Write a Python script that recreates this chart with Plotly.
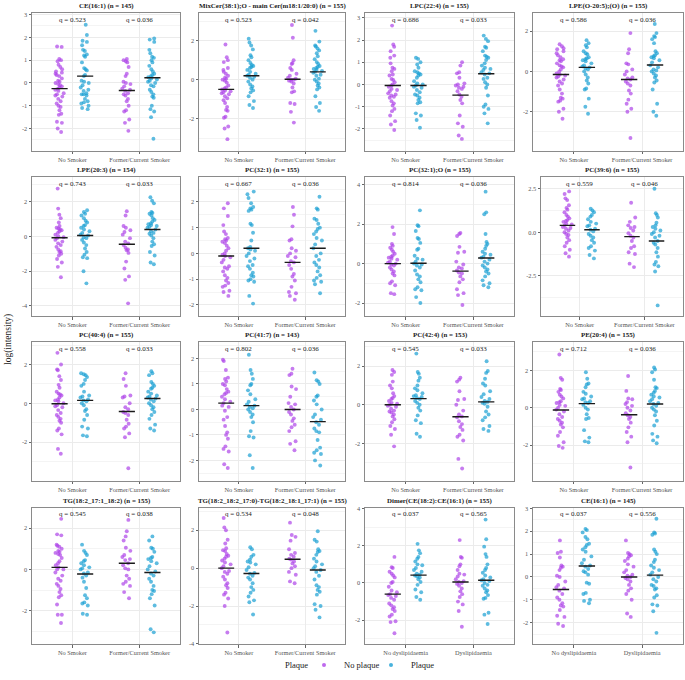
import numpy as np
import plotly.graph_objects as go

# ---------------- data ----------------
titles = [
    "CE(16:1) (n = 145)", "MixCer(38:1);O - main Cer(m18:1/20:0) (n = 155)",
    "LPC(22:4) (n = 155)", "LPE(O-20:5);(O) (n = 155)",
    "LPE(20:3) (n = 154)", "PC(32:1) (n = 155)", "PC(32:1);O (n = 155)", "PC(39:6) (n = 155)",
    "PC(40:4) (n = 155)", "PC(41:7) (n = 143)", "PC(42:4) (n = 153)", "PE(20:4) (n = 155)",
    "TG(18:2_17:1_18:2) (n = 155)", "TG(18:2_18:2_17:0)-TG(18:2_18:1_17:1) (n = 155)",
    "Dimer(CE(18:2):CE(16:1) (n = 155)", "CE(16:1) (n = 145)",
]
cats_smoker = ["No Smoker", "Former/Current Smoker"]
cats_dys = ["No dyslipidaemia", "Dyslipidaemia"]
panel_cats = [cats_smoker] * 14 + [cats_dys] * 2

q_first = ["0.523", "0.523", "0.686", "0.586", "0.743", "0.667", "0.814", "0.559",
           "0.558", "0.802", "0.545", "0.712", "0.545", "0.534", "0.037", "0.037"]
q_second = ["0.036", "0.042", "0.033", "0.036", "0.033", "0.036", "0.036", "0.046",
            "0.033", "0.036", "0.033", "0.036", "0.038", "0.048", "0.565", "0.556"]

# group means: [cat1 no plaque, cat1 plaque, cat2 no plaque, cat2 plaque]
means = [
    [-0.25, 0.30, -0.33, 0.23], [-0.50, 0.20, 0.02, 0.40], [-0.05, -0.05, -0.48, 0.48],
    [-0.15, 0.20, -0.40, 0.32], [-0.08, 0.05, -0.45, 0.40], [-0.10, 0.20, -0.35, 0.20],
    [0.00, 0.02, -0.38, 0.28], [0.40, 0.15, -0.25, -0.50], [-0.02, 0.15, -0.42, 0.25],
    [0.25, 0.15, 0.00, -0.48], [0.00, 0.32, -0.62, 0.15], [-0.12, 0.22, -0.38, 0.20],
    [0.10, -0.22, 0.30, -0.15], [0.00, -0.28, 0.47, -0.10], [-0.60, 0.42, 0.05, 0.15],
    [-0.55, 0.48, 0.00, 0.08],
]

p1_a = [1.6, 1.58, 1.05, 1.0, 0.95, 0.8, 0.7, 0.6, 0.5, 0.45, 0.4, 0.35, 0.3, 0.1, 0.05, 0.0, -0.05, -0.1, -0.15, -0.2, -0.3, -0.35, -0.45, -0.5, -0.55, -0.6, -0.7, -0.8, -0.9, -1.0, -1.05, -1.2, -1.35, -1.4, -1.7, -1.75, -2.0, -2.15, 0.2, -0.25]
p1_b = [2.55, 2.1, 1.85, 1.8, 1.65, 1.45, 1.4, 1.25, 1.2, 1.15, 0.9, 0.65, 0.6, 0.55, 0.1, 0.05, 0.0, -0.1, -0.2, -0.3, -0.35, -0.45, -0.5, -0.5, -0.55, -0.7, -0.8, -0.85, -0.9, -1.0, -1.1, -1.15, 0.3, 0.35]
p1_c = [1.05, 1.0, 0.9, 0.7, 0.4, 0.3, 0.05, 0.0, -0.15, -0.3, -0.35, -0.45, -0.5, -0.55, -0.7, -0.8, -1.2, -1.25, -1.6, -1.75, -2.1, 0.95, -0.05, -0.25, -1.0]
p1_d = [1.95, 1.9, 1.8, 1.45, 1.3, 1.15, 1.1, 1.0, 0.9, 0.75, 0.6, 0.4, 0.3, 0.25, 0.2, 0.1, 0.05, 0.0, -0.1, -0.15, -0.3, -0.4, -0.5, -0.6, -0.65, -1.0, -1.15, -1.25, -1.5, -2.45, 0.5, 0.15, 0.35]

p2_a = [1.8, 1.15, 1.0, 0.9, 0.6, 0.5, 0.4, 0.3, 0.2, 0.1, 0.05, -0.05, -0.15, -0.3, -0.4, -0.5, -0.6, -0.65, -0.7, -0.75, -0.85, -0.95, -1.05, -1.2, -1.4, -1.55, -1.6, -1.9, -1.95, -2.4, -2.5, -3.05, -0.55, -0.45, 0.0]
p2_b = [2.1, 1.9, 1.75, 1.55, 1.25, 1.15, 1.0, 0.85, 0.75, 0.7, 0.65, 0.6, 0.5, 0.3, 0.2, 0.15, 0.1, 0.0, -0.1, -0.25, -0.35, -0.45, -0.55, -0.65, -0.85, -1.1, -1.3, -1.45, 0.4, 0.25]
p2_c = [2.8, 2.15, 1.0, 0.85, 0.8, 0.6, 0.5, 0.3, 0.2, 0.05, 0.0, 0.0, -0.05, -0.2, -0.4, -0.6, -0.65, -1.2, -1.25, -1.65, -2.2, 0.1, -0.1]
p2_d = [2.5, 1.95, 1.75, 1.7, 1.6, 1.5, 1.35, 1.2, 1.05, 0.9, 0.8, 0.7, 0.65, 0.6, 0.55, 0.45, 0.4, 0.35, 0.2, 0.05, 0.0, -0.1, -0.2, -0.3, -0.4, -0.5, -0.85, -1.2, -1.4, -1.6, 0.25, 0.5]

p3_a = [2.65, 1.8, 1.7, 1.5, 1.3, 1.2, 0.95, 0.75, 0.7, 0.6, 0.45, 0.4, 0.2, 0.1, 0.0, -0.05, -0.1, -0.2, -0.3, -0.4, -0.45, -0.5, -0.6, -0.75, -0.85, -0.95, -1.1, -1.2, -1.4, -1.65, -1.8, -2.05, -0.25, 0.25, -0.55]
p3_b = [1.2, 1.15, 1.0, 0.9, 0.75, 0.6, 0.55, 0.5, 0.4, 0.3, 0.15, 0.05, 0.0, -0.1, -0.15, -0.25, -0.35, -0.5, -0.6, -0.7, -0.8, -0.85, -1.3, -1.4, -1.6, -1.95, 0.45, -0.05, -0.45]
p3_c = [1.0, 0.85, 0.55, 0.5, 0.05, 0.0, -0.05, -0.15, -0.3, -0.45, -0.55, -0.7, -0.85, -1.4, -1.75, -1.9, -2.3, -2.45, -0.2, -0.1, 0.3]
p3_d = [2.2, 2.05, 1.95, 1.7, 1.65, 1.5, 1.3, 1.25, 1.2, 1.1, 0.95, 0.85, 0.65, 0.55, 0.5, 0.45, 0.25, 0.1, 0.0, -0.15, -0.5, -0.9, -1.0, -1.1, -1.3, -1.75, 0.75, 0.3, 0.7]

p4_a = [1.35, 1.25, 1.15, 1.1, 1.0, 0.9, 0.8, 0.7, 0.6, 0.5, 0.4, 0.3, 0.2, 0.1, 0.0, -0.1, -0.2, -0.3, -0.4, -0.5, -0.6, -0.7, -0.9, -1.1, -1.3, -1.35, -1.45, -1.5, -1.85, -2.0, -2.35, 0.25, -0.15, -0.25, 0.55]
p4_b = [1.55, 1.4, 1.3, 1.2, 1.0, 0.9, 0.85, 0.7, 0.6, 0.5, 0.4, 0.3, 0.2, 0.15, 0.0, -0.15, -0.3, -0.45, -0.6, -0.85, -0.9, -1.35, -1.75, -2.1, 0.25, 0.1, 0.55, 0.65]
p4_c = [1.9, 1.1, 0.9, 0.4, 0.35, 0.1, 0.0, -0.3, -0.35, -0.5, -0.6, -0.7, -0.95, -1.1, -1.4, -1.6, -1.85, -2.0, -3.3, -0.15, -0.4]
p4_d = [2.35, 1.9, 1.75, 1.7, 1.6, 1.4, 1.0, 0.9, 0.8, 0.75, 0.7, 0.55, 0.3, 0.2, 0.05, 0.0, -0.1, -0.3, -0.45, -0.55, -0.9, -1.6, -2.0, -2.2, 0.45, 0.65, 0.1, -0.2]

p5_a = [2.75, 1.6, 1.25, 1.05, 0.8, 0.6, 0.5, 0.4, 0.3, 0.2, 0.1, 0.0, -0.1, -0.2, -0.3, -0.4, -0.5, -0.6, -0.75, -0.9, -1.0, -1.1, -1.3, -1.5, -1.75, -2.35, 0.35, -0.05, 0.45, -0.85]
p5_b = [1.5, 1.4, 1.3, 1.2, 1.05, 0.9, 0.8, 0.65, 0.5, 0.4, 0.3, 0.2, 0.05, -0.05, -0.2, -0.35, -0.5, -0.7, -0.9, -1.05, -1.2, -1.25, -2.0, -2.7, 0.6, 0.1, -0.1]
p5_c = [1.45, 1.2, 0.6, 0.5, 0.35, 0.1, -0.1, -0.3, -0.5, -0.65, -0.75, -0.8, -0.95, -1.45, -1.85, -2.3, -2.5, -3.85, -0.4, 0.25]
p5_d = [2.25, 2.05, 1.9, 1.4, 1.35, 1.3, 1.2, 1.05, 0.95, 0.85, 0.7, 0.6, 0.5, 0.4, 0.3, 0.2, 0.05, -0.1, -0.3, -0.45, -0.55, -0.9, -1.1, -1.5, -1.6, 0.65, 0.75, 0.15, 0.55]

p6_a = [1.95, 1.75, 1.45, 1.1, 0.85, 0.75, 0.55, 0.5, 0.4, 0.3, 0.2, 0.1, 0.0, -0.05, -0.15, -0.25, -0.35, -0.5, -0.55, -0.7, -0.85, -0.95, -1.05, -1.15, -1.25, -1.3, -1.45, -1.65, 0.45, 0.6, -0.1, -0.6, -1.5]
p6_b = [2.4, 2.3, 2.15, 1.95, 1.8, 1.75, 1.7, 1.65, 1.15, 1.1, 0.8, 0.5, 0.25, 0.2, 0.1, 0.0, -0.1, -0.2, -0.3, -0.45, -0.6, -0.75, -0.85, -0.9, -1.0, -1.05, -1.1, -1.65, -1.95, 0.15, -0.5]
p6_c = [1.8, 1.5, 1.05, 0.55, 0.5, 0.2, 0.0, -0.15, -0.3, -0.35, -0.45, -0.6, -0.8, -0.9, -1.05, -1.3, -1.5, -1.55, -1.65, -1.8, -0.1, 0.1]
p6_d = [2.2, 1.75, 1.7, 1.35, 1.3, 1.15, 1.0, 0.95, 0.75, 0.5, 0.35, 0.2, 0.0, -0.1, -0.25, -0.35, -0.55, -0.7, -0.85, -1.05, -1.1, -1.2, -1.55, 0.6, -0.45, 0.85, -0.95]

p7_a = [1.85, 1.5, 1.0, 0.9, 0.8, 0.7, 0.6, 0.5, 0.4, 0.3, 0.2, 0.1, 0.05, 0.0, -0.1, -0.2, -0.3, -0.4, -0.5, -0.6, -0.9, -1.0, -1.1, -1.5, -1.55, 0.25, -0.05, 0.35]
p7_b = [2.7, 1.95, 1.9, 1.65, 1.3, 1.25, 1.05, 0.75, 0.7, 0.4, 0.25, 0.1, 0.0, -0.1, -0.2, -0.35, -0.55, -0.65, -0.8, -0.95, -1.2, -1.3, -1.35, -1.7, -2.0, 0.2, -0.05]
p7_c = [1.55, 1.5, 1.4, 0.85, 0.6, 0.55, 0.1, -0.05, -0.2, -0.35, -0.5, -0.65, -0.8, -0.95, -1.3, -1.5, -1.6, -2.1, -0.25, -0.45]
p7_d = [3.65, 2.6, 2.5, 1.5, 1.1, 1.0, 0.9, 0.75, 0.6, 0.45, 0.35, 0.3, 0.1, 0.0, -0.1, -0.3, -0.4, -0.5, -0.65, -0.85, -1.0, -1.1, -1.2, 0.2, 0.5, -0.2]

p8_a = [2.35, 2.2, 1.95, 1.85, 1.55, 1.4, 1.3, 1.15, 1.0, 0.9, 0.8, 0.7, 0.6, 0.5, 0.4, 0.3, 0.2, 0.1, 0.0, -0.15, -0.3, -0.45, -0.6, -0.8, -1.0, -1.2, -1.4, -0.1, 0.45, 0.25, 0.65]
p8_b = [1.35, 1.25, 1.15, 1.0, 0.9, 0.75, 0.6, 0.5, 0.35, 0.2, 0.05, -0.1, -0.3, -0.45, -0.6, -0.8, -0.9, -1.05, -1.3, -1.5, 0.15, 0.4, -0.2]
p8_c = [1.7, 0.85, 0.6, 0.4, 0.25, 0.1, -0.2, -0.3, -0.5, -0.8, -0.9, -1.15, -1.25, -1.8, -2.0, 0.3, -0.05]
p8_d = [2.5, 1.1, 1.0, 0.85, 0.55, 0.4, 0.3, 0.0, -0.1, -0.3, -0.5, -0.7, -0.9, -1.15, -1.4, -1.7, -1.85, -1.95, -2.25, -4.2, 0.2, -0.2, -0.6, 0.1]

p9_a = [2.6, 2.0, 1.75, 1.7, 1.4, 1.2, 0.95, 0.8, 0.6, 0.5, 0.4, 0.3, 0.2, 0.1, 0.0, -0.1, -0.2, -0.35, -0.5, -0.7, -0.8, -0.9, -1.0, -1.3, -1.4, -1.6, -2.35, -2.6, 0.45, -0.6, -0.15, 0.15]
p9_b = [1.55, 1.5, 1.45, 1.35, 1.2, 1.0, 0.9, 0.6, 0.4, 0.3, 0.2, 0.1, 0.0, -0.3, -0.4, -0.6, -0.85, -1.2, -1.3, -1.65, -1.7, 0.35, 0.15, -0.1]
p9_c = [1.55, 1.25, 0.9, 0.4, 0.3, 0.0, -0.3, -0.45, -0.6, -0.85, -1.05, -1.2, -1.3, -1.55, -1.75, -3.35, -0.5, 0.35, -0.2]
p9_d = [1.65, 1.55, 1.45, 1.1, 1.0, 0.9, 0.75, 0.6, 0.5, 0.4, 0.3, 0.2, 0.1, 0.0, -0.1, -0.3, -0.45, -0.6, -0.8, -1.1, -1.3, -1.4, 0.25, 0.35, 0.8, -0.2]

p10_a = [1.9, 1.95, 1.55, 1.25, 1.2, 1.1, 0.95, 0.8, 0.7, 0.6, 0.5, 0.4, 0.25, 0.1, -0.05, -0.3, -0.4, -0.65, -0.9, -1.0, -1.15, -1.45, -1.55, -1.65, -2.15, -2.3, 0.65, 0.3, 1.0, 0.15]
p10_b = [2.15, 1.55, 1.4, 1.2, 1.0, 0.95, 0.75, 0.6, 0.4, 0.2, 0.15, 0.1, 0.0, -0.1, -0.2, -0.3, -0.5, -0.85, -1.05, -1.1, -1.8, -2.3, 0.3, 0.05]
p10_c = [1.6, 1.4, 1.35, 0.9, 0.8, 0.5, 0.25, 0.2, 0.0, -0.2, -0.35, -0.45, -0.6, -0.7, -0.85, -1.25, -1.35, -1.6, 0.1, -0.1]
p10_d = [1.45, 1.15, 1.1, 1.0, 0.55, 0.5, 0.2, 0.0, -0.3, -0.4, -0.5, -0.6, -0.75, -0.85, -0.9, -1.2, -1.5, -1.6, -1.7, -1.75, -2.0, -2.2, -0.2, 0.35]

p11_a = [1.8, 1.7, 1.55, 1.2, 1.0, 0.85, 0.6, 0.45, 0.35, 0.2, 0.1, 0.0, -0.1, -0.2, -0.3, -0.4, -0.5, -0.6, -0.75, -0.9, -1.1, -1.25, -1.55, -2.15, 0.3, -0.05, 0.05, -0.35]
p11_b = [2.65, 1.7, 1.6, 1.4, 1.25, 1.0, 0.85, 0.75, 0.6, 0.5, 0.4, 0.3, 0.2, 0.0, -0.15, -0.3, -0.55, -0.8, -0.95, -1.5, -1.65, 0.35, 0.1, 0.45]
p11_c = [1.4, 1.3, 1.2, 0.7, 0.3, 0.25, -0.3, -0.5, -0.65, -0.85, -1.0, -1.15, -1.3, -1.55, -1.65, -1.85, -2.8, -3.3, -0.6, 0.0]
p11_d = [2.25, 1.75, 1.65, 1.35, 1.1, 1.0, 0.7, 0.55, 0.4, 0.3, 0.15, 0.05, -0.1, -0.35, -0.5, -0.65, -0.8, -1.1, -1.25, -1.35, 0.2, 0.1]

p12_a = [2.85, 1.6, 1.5, 1.0, 0.95, 0.85, 0.7, 0.6, 0.5, 0.35, 0.25, 0.15, 0.0, -0.1, -0.2, -0.35, -0.5, -0.7, -0.8, -0.9, -1.05, -1.3, -1.5, -1.85, -2.05, -2.15, 0.3, -0.6, 0.1]
p12_b = [1.9, 1.55, 1.3, 1.25, 1.1, 0.85, 0.75, 0.6, 0.45, 0.35, 0.25, 0.15, 0.0, -0.1, -0.35, -0.55, -0.6, -1.2, -1.6, -1.8, -1.85, 0.3, 0.5]
p12_c = [1.7, 0.9, 0.5, 0.45, 0.3, 0.2, 0.0, -0.15, -0.3, -0.5, -0.6, -0.8, -1.05, -1.3, -1.55, -1.85, -3.2, -0.4, 0.1]
p12_d = [2.15, 2.05, 1.9, 1.5, 1.1, 1.05, 0.9, 0.8, 0.7, 0.55, 0.45, 0.35, 0.2, 0.1, 0.0, -0.2, -0.4, -0.7, -0.95, -1.4, -1.55, -1.75, -1.9, 0.25, 0.6, -0.1]

p13_a = [2.45, 1.7, 1.65, 1.2, 1.1, 1.0, 0.9, 0.8, 0.7, 0.55, 0.4, 0.3, 0.2, 0.1, 0.0, -0.15, -0.3, -0.45, -0.55, -0.7, -0.8, -0.95, -1.1, -1.25, -1.35, -1.7, -2.2, -2.2, -2.6, 0.75, 0.85, 1.15, 0.0]
p13_b = [1.2, 0.9, 0.8, 0.7, 0.45, 0.4, 0.3, 0.2, 0.1, 0.0, -0.15, -0.3, -0.4, -0.6, -0.9, -1.25, -1.4, -1.6, -1.65, -1.75, -2.15, -2.2, 0.05, -0.2]
p13_c = [2.4, 1.85, 1.6, 1.4, 1.05, 0.9, 0.7, 0.6, 0.45, 0.3, 0.2, 0.05, -0.3, -0.45, -0.6, -0.7, -0.8, -1.1, -1.4, 0.0, 0.5]
p13_d = [1.6, 1.4, 1.05, 1.0, 0.85, 0.6, 0.5, 0.4, 0.3, 0.15, 0.0, -0.2, -0.3, -0.45, -0.6, -0.8, -1.0, -1.05, -1.2, -1.4, -1.75, -2.9, -3.05, 0.55, -0.1]

p14_a = [2.65, 2.15, 2.0, 1.5, 1.3, 1.05, 0.9, 0.75, 0.6, 0.5, 0.4, 0.3, 0.2, 0.1, 0.0, -0.15, -0.3, -0.45, -0.6, -0.8, -0.9, -1.05, -1.3, -1.4, -1.6, -2.0, -3.4, 0.65, -0.2, 0.95]
p14_b = [1.1, 1.0, 0.7, 0.6, 0.45, 0.35, 0.2, 0.05, -0.1, -0.25, -0.4, -0.5, -0.6, -0.8, -1.0, -1.15, -1.3, -1.5, -1.7, -1.8, -2.45, 0.3, -0.3]
p14_c = [2.4, 1.75, 1.65, 1.45, 1.0, 0.8, 0.7, 0.6, 0.5, 0.35, 0.25, 0.1, -0.2, -0.35, -0.7, -0.8, 0.45, 0.0]
p14_d = [1.95, 1.5, 1.4, 1.0, 0.9, 0.7, 0.5, 0.35, 0.2, 0.1, 0.0, -0.2, -0.4, -0.6, -0.9, -1.0, -1.15, -1.25, -1.4, -1.9, -2.0, -2.2, -2.6, 0.85, -0.1]

p15_a = [1.4, 0.85, 0.8, 0.6, 0.5, 0.4, 0.3, 0.05, -0.2, -0.4, -0.6, -0.7, -0.8, -0.9, -1.1, -1.2, -1.3, -1.4, -1.5, -1.7, -1.8, -2.05, -2.1, -2.7, -0.5, -0.65, 0.0]
p15_b = [2.1, 1.75, 1.6, 1.4, 1.3, 1.15, 0.95, 0.8, 0.7, 0.6, 0.5, 0.4, 0.3, 0.2, 0.05, -0.1, -0.35, -0.5, -0.75, -0.9, 0.45, 0.35, 1.0]
p15_c = [2.3, 1.4, 1.35, 1.0, 0.9, 0.7, 0.5, 0.35, 0.2, 0.1, 0.0, -0.15, -0.3, -0.45, -0.6, -0.75, -1.0, -1.15, -1.5, -2.35, 0.05, -0.05, 0.45]
p15_d = [3.4, 2.35, 1.95, 1.55, 1.4, 1.0, 0.8, 0.7, 0.55, 0.4, 0.3, 0.2, 0.0, -0.15, -0.3, -0.4, -0.5, -0.65, -0.8, -0.85, -1.6, -1.7, -2.2, 0.1, 0.15, -0.1]

p16_a = [1.6, 1.1, 1.05, 0.85, 0.5, 0.45, 0.4, 0.3, 0.05, -0.2, -0.35, -0.45, -0.6, -0.75, -0.9, -1.0, -1.15, -1.25, -1.3, -1.45, -1.7, -1.75, -2.05, -2.15, 0.0, -0.5]
p16_b = [2.1, 2.05, 1.95, 1.75, 1.65, 1.45, 1.4, 1.3, 1.2, 1.1, 0.9, 0.75, 0.6, 0.45, 0.35, 0.25, 0.1, -0.25, -0.3, -0.7, -0.75, -1.0, -1.05, -1.15, 0.5, 0.2]
p16_c = [1.6, 1.05, 1.0, 0.95, 0.9, 0.7, 0.55, 0.45, 0.3, 0.2, 0.1, 0.0, -0.1, -0.2, -0.35, -0.5, -0.6, -0.75, -1.0, -1.6, -1.75, 0.05, -0.05, 0.8]
p16_d = [2.55, 1.95, 1.9, 1.85, 1.2, 1.1, 1.0, 0.75, 0.65, 0.5, 0.4, 0.2, 0.1, 0.0, -0.1, -0.2, -0.35, -0.5, -0.55, -0.8, -0.9, -1.2, -1.25, -1.5, -2.45, 0.3, -0.4]

panel_groups = [
    [p1_a, p1_b, p1_c, p1_d], [p2_a, p2_b, p2_c, p2_d], [p3_a, p3_b, p3_c, p3_d], [p4_a, p4_b, p4_c, p4_d],
    [p5_a, p5_b, p5_c, p5_d], [p6_a, p6_b, p6_c, p6_d], [p7_a, p7_b, p7_c, p7_d], [p8_a, p8_b, p8_c, p8_d],
    [p9_a, p9_b, p9_c, p9_d], [p10_a, p10_b, p10_c, p10_d], [p11_a, p11_b, p11_c, p11_d], [p12_a, p12_b, p12_c, p12_d],
    [p13_a, p13_b, p13_c, p13_d], [p14_a, p14_b, p14_c, p14_d], [p15_a, p15_b, p15_c, p15_d], [p16_a, p16_b, p16_c, p16_d],
]

# ---------------- axis settings ----------------
y_ranges = [
    [-2.97, 3.07], [-3.64, 3.42], [-2.98, 3.22], [-3.93, 2.90],
    [-4.59, 3.39], [-2.44, 2.95], [-2.67, 4.37], [-4.82, 3.15],
    [-3.99, 3.16], [-2.80, 2.65], [-3.93, 3.25], [-3.91, 3.52],
    [-3.63, 3.00], [-4.02, 3.20], [-3.29, 4.05], [-2.95, 3.04],
]
y_dticks = [1, 2, 1, 2, 2, 1, 2, 2.5, 2, 1, 2, 2, 2, 2, 2, 1]

W, H = 685, 680
col_left = [[32, 199, 365, 533], [32, 199, 365, 541], [32, 199, 365, 533], [32, 199, 365, 533]]
col_right = [180, 345, 514, 683]
row_top = [10, 176, 342, 509]
row_bot = [149, 316, 482, 647]

PURPLE = "#AE44E8"
BLUE = "#1A9FD3"
SERIF = "Liberation Serif"
DODGE = 0.19
MEAN_HALF = 0.12

fig = go.Figure()
layout = dict(
    width=W, height=H, margin=dict(l=0, r=0, t=0, b=0),
    paper_bgcolor="white", plot_bgcolor="white",
    font=dict(family=SERIF, size=7, color="#333333"),
    boxmode="overlay",
)
annotations = []

for i in range(16):
    r, c = divmod(i, 4)
    k = i + 1
    xa = "x" if k == 1 else f"x{k}"
    ya = "y" if k == 1 else f"y{k}"
    groups = panel_groups[i]
    positions = [1 - DODGE, 1 + DODGE, 2 - DODGE, 2 + DODGE]
    colors = [PURPLE, BLUE, PURPLE, BLUE]
    for g in range(4):
        fig.add_trace(go.Box(
            y=groups[g], x0=positions[g], width=0.2, boxpoints="all", jitter=0.75, pointpos=0,
            fillcolor="rgba(0,0,0,0)", line=dict(width=0, color="rgba(0,0,0,0)"),
            marker=dict(color=colors[g], size=3.9, opacity=0.7, line=dict(width=0)),
            hoveron="points", showlegend=False, xaxis=xa, yaxis=ya,
        ))
    for g in range(4):
        m = means[i][g]
        fig.add_trace(go.Scatter(
            x=[positions[g] - MEAN_HALF, positions[g] + MEAN_HALF], y=[m, m],
            mode="lines", line=dict(color="#1a1a1a", width=1.4),
            showlegend=False, hoverinfo="skip", xaxis=xa, yaxis=ya,
        ))

    lo, hi = y_ranges[i]
    d = y_dticks[i]
    tv = np.arange(np.ceil(lo / d) * d, hi + 1e-9, d)
    if d == 2.5:
        tt = [f"{v:.1f}" for v in tv]
    else:
        tt = [f"{v:g}" for v in tv]
    tt = ["0.0" if t == "-0.0" else ("0" if t == "-0" else t) for t in tt]

    xdom = [col_left[r][c] / W, col_right[c] / W]
    ydom = [1 - row_bot[r] / H, 1 - row_top[r] / H]
    axis_common = dict(
        showline=True, mirror=True, linecolor="#8a8a8a", linewidth=1,
        ticks="outside", ticklen=2.5, tickwidth=1, tickcolor="#666666",
        tickfont=dict(family=SERIF, size=6.3, color="#555555"),
        gridcolor="#EBEBEB", gridwidth=0.8, zeroline=False,
    )
    layout["xaxis" if k == 1 else f"xaxis{k}"] = dict(
        domain=xdom, anchor=ya, type="linear", range=[0.4, 2.6],
        tickmode="array", tickvals=[1, 2], ticktext=panel_cats[i], **axis_common,
    )
    layout["yaxis" if k == 1 else f"yaxis{k}"] = dict(
        domain=ydom, anchor=xa, range=[lo, hi],
        tickmode="array", tickvals=list(tv), ticktext=tt,
        minor=dict(tickmode="linear", tick0=0, dtick=d / 2, showgrid=True,
                   gridcolor="#F4F4F4", gridwidth=0.5),
        **axis_common,
    )
    # panel title
    annotations.append(dict(
        text=f"<b>{titles[i]}</b>", x=(xdom[0] + xdom[1]) / 2, y=1 - (row_top[r] - 1) / H,
        xref="paper", yref="paper", xanchor="center", yanchor="bottom", showarrow=False,
        font=dict(family=SERIF, size=6.9, color="#1a1a1a"),
    ))
    # q labels
    for j, q in enumerate([q_first[i], q_second[i]]):
        annotations.append(dict(
            text=f"q = {q}", x=j + 1, y=0.952, xref=xa, yref=f"{ya} domain",
            xanchor="center", yanchor="middle", showarrow=False,
            font=dict(family=SERIF, size=7, color="#1a1a1a"),
        ))

annotations.append(dict(
    text="log(intensity)", x=8 / W, y=1 - 340 / H, xref="paper", yref="paper",
    textangle=-90, showarrow=False, xanchor="center", yanchor="middle",
    font=dict(family=SERIF, size=9.5, color="#1a1a1a"),
))
# legend title
annotations.append(dict(
    text="Plaque", x=296 / W, y=1 - 668 / H, xref="paper", yref="paper",
    showarrow=False, xanchor="center", yanchor="middle",
    font=dict(family=SERIF, size=8.5, color="#1a1a1a"),
))

# legend entries
for name, col in [("No plaque", PURPLE), ("Plaque", BLUE)]:
    fig.add_trace(go.Scatter(
        x=[None], y=[None], mode="markers", name=name,
        marker=dict(color=col, size=4, opacity=0.8), xaxis="x", yaxis="y",
    ))

layout["annotations"] = annotations
layout["legend"] = dict(
    orientation="h", x=304 / W, xanchor="left", y=1 - 668 / H, yanchor="middle",
    font=dict(family=SERIF, size=8.5, color="#1a1a1a"), bgcolor="rgba(0,0,0,0)",
    itemwidth=30, entrywidth=22, entrywidthmode="pixels", tracegroupgap=0,
)
fig.update_layout(**layout)
fig.write_html(
    "out.html",
    config={"displayModeBar": False},
    post_script="document.body.style.margin='0px';document.body.style.overflow='hidden';",
)
